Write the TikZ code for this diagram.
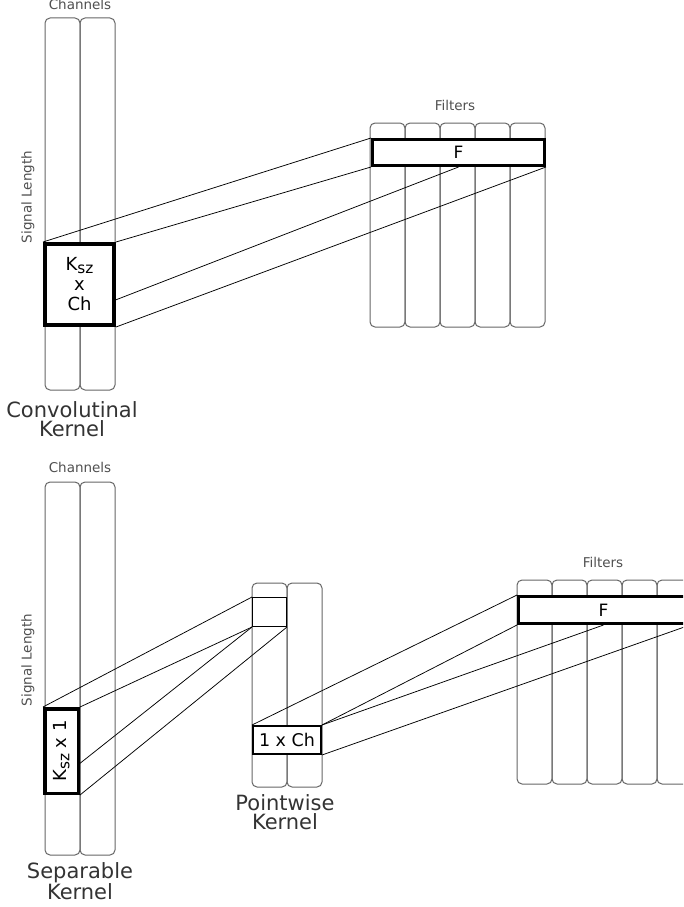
\documentclass[tikz,border=0pt]{standalone}
\usepackage{fontspec}
\setmainfont{DejaVu Sans}
\usetikzlibrary{calc}
\newcommand{\ksz}{K\raisebox{-0.3ex}{\scalebox{0.85}{sz}}}
\definecolor{colgray}{HTML}{666666}
\definecolor{lblgray}{HTML}{505050}
\begin{document}
\begin{tikzpicture}[x=1pt,y=-1pt,
    col/.style={draw=colgray,line width=1pt,rounded corners=5pt},
    kern/.style={draw=black,fill=white,inner sep=0pt,align=center},
    wire/.style={black,line width=0.75pt},
    small/.style={text=lblgray,font=\fontsize{13.5}{13.5}\selectfont},
    big/.style={text=black!80,align=center,font=\fontsize{21}{19.5}\selectfont}]
  \useasboundingbox (0,0) rectangle (683,907);
  \clip (0,0) rectangle (683,907);

  % convolution: channels and filters
  \draw[col] (45,18) rectangle (80,390);
  \draw[col] (80,18) rectangle (115,390);

  \draw[col] (370,123) rectangle (405,327);
  \draw[col] (405,123) rectangle (440,327);
  \draw[col] (440,123) rectangle (475,327);
  \draw[col] (475,123) rectangle (510,327);
  \draw[col] (510,123) rectangle (545,327);

  \node[small] (chantop) at (80,4) {Channels};
  \node[small,rotate=90] (lentop) at (28,197) {Signal Length};
  \node[small] (filttop) at (455,105) {Filters};

  \node[kern,line width=4pt,minimum width=69pt,minimum height=81pt,
    font=\fontsize{18}{20}\selectfont] (conv) at (79.5,284.5) {\ksz\\x\\Ch};
  \node[kern,line width=3pt,minimum width=172pt,minimum height=26pt,
    font=\fontsize{17}{17}\selectfont] (ftop) at (458.5,152.5) {F};

  \draw[wire] (conv.north west) to (ftop.north west);
  \draw[wire] (conv.north east) to (ftop.south west);
  \draw[wire] ($(conv.north east)!0.68!(conv.south east)$) to (ftop.south);
  \draw[wire] (conv.south east) to (ftop.south east);

  \node[big] (convlbl) at (72,419) {Convolutinal\\Kernel};

  % separable: channels, pointwise and filters
  \draw[col] (45,482) rectangle (80,855);
  \draw[col] (80,482) rectangle (115,855);

  \draw[col] (252,583) rectangle (287,787);
  \draw[col] (287,583) rectangle (322,787);

  \draw[col] (517,580) rectangle (552,784);
  \draw[col] (552,580) rectangle (587,784);
  \draw[col] (587,580) rectangle (622,784);
  \draw[col] (622,580) rectangle (657,784);
  \draw[col] (657,580) rectangle (692,784);

  \node[small] (chanbot) at (80,467) {Channels};
  \node[small,rotate=90] (lenbot) at (28,660) {Signal Length};
  \node[small] (filtbot) at (603,562) {Filters};

  \node[kern,line width=3.5pt,minimum width=33.5pt,minimum height=84.5pt,
    font=\fontsize{18}{18}\selectfont] (sep) at (61.5,751) {\rotatebox{90}{\ksz\ x 1}};
  \node[kern,line width=1.3pt,minimum width=33.7pt,minimum height=28.7pt] (pw) at (269.5,612) {};
  \node[kern,line width=2pt,minimum width=68pt,minimum height=28pt,
    font=\fontsize{17.5}{17.5}\selectfont] (onech) at (287,740) {1 x Ch};
  \node[kern,line width=3pt,minimum width=170pt,minimum height=27pt,
    font=\fontsize{17}{17}\selectfont] (fbot) at (603.5,610) {F};

  \draw[wire] (sep.north west) to (pw.north west);
  \draw[wire] (sep.north east) to (pw.south west);
  \draw[wire] ($(sep.north east)!0.64!(sep.south east)$) to (pw.south west);
  \draw[wire] (sep.south east) to (pw.south east);

  \draw[wire] (onech.north west) to (fbot.north west);
  \draw[wire] (onech.north east) to (fbot.south west);
  \draw[wire] (onech.north east) to (fbot.south);
  \draw[wire] (onech.south east) to (fbot.south east);

  \node[big] (pwlbl) at (285,812) {Pointwise\\Kernel};
  \node[big] (seplbl) at (80,881) {Separable\\Kernel};
\end{tikzpicture}
\end{document}
